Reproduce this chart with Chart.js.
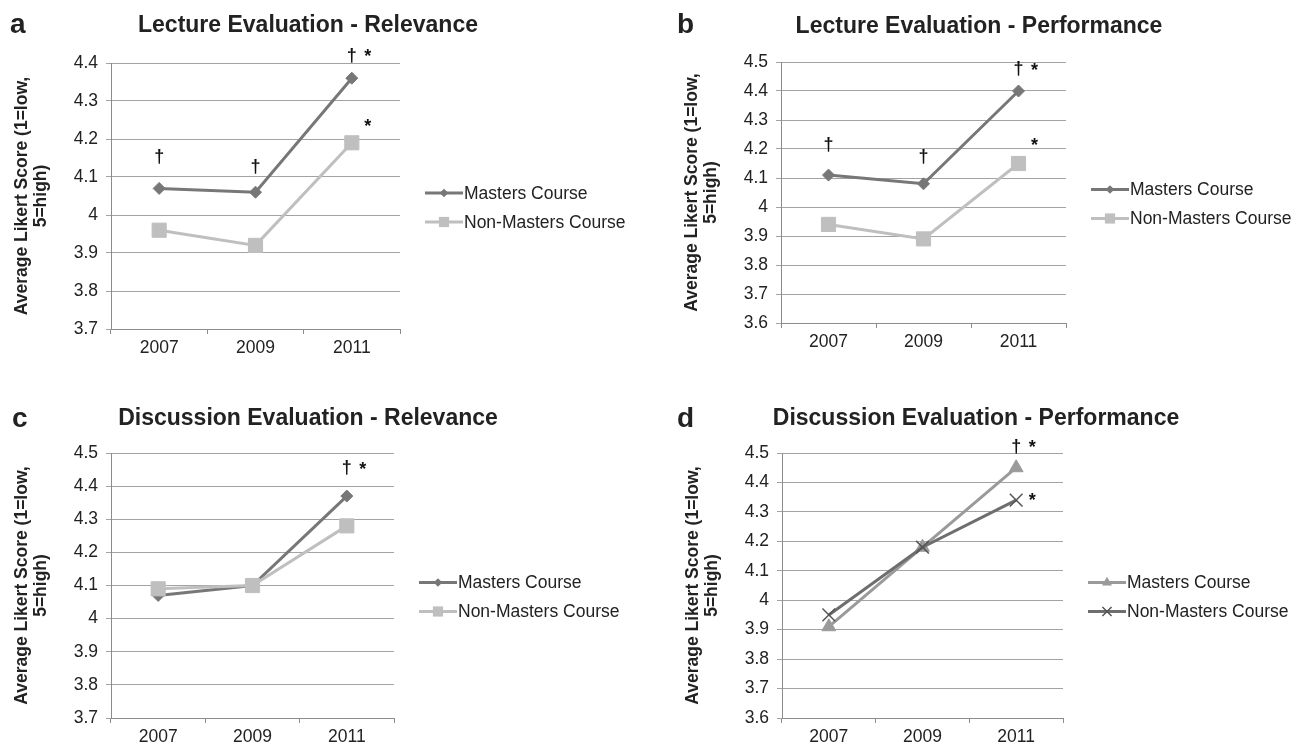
<!DOCTYPE html>
<html>
<head>
<meta charset="utf-8">
<script src="https://cdn.jsdelivr.net/npm/chart.js"></script>
<style>
  body { margin: 0; background: #fff; }
  #page { position: relative; width: 1297px; height: 746px; overflow: hidden; }
  canvas { position: absolute; }
</style>
</head>
<body>
<div id="page">
  <canvas id="chart-a" width="648" height="373" style="left:0;top:0"></canvas>
  <canvas id="chart-b" width="649" height="373" style="left:648px;top:0"></canvas>
  <canvas id="chart-c" width="648" height="373" style="left:0;top:373px"></canvas>
  <canvas id="chart-d" width="649" height="373" style="left:648px;top:373px"></canvas>
</div>
<script>
// values
const years = ["2007", "2009", "2011"];
const seriesNames = ["Masters Course", "Non-Masters Course"];

const lectureRelevanceMasters = [4.07, 4.06, 4.36];
const lectureRelevanceNonMasters = [3.96, 3.92, 4.19];
const lecturePerformanceMasters = [4.11, 4.08, 4.4];
const lecturePerformanceNonMasters = [3.94, 3.89, 4.15];
const discussionRelevanceMasters = [4.07, 4.1, 4.37];
const discussionRelevanceNonMasters = [4.09, 4.1, 4.28];
const discussionPerformanceMasters = [3.91, 4.18, 4.45];
const discussionPerformanceNonMasters = [3.95, 4.18, 4.34];

// significance marks: [year, value, symbol]
const lectureRelevanceMarks = [
  ["2007", 4.153, "†"], ["2009", 4.126, "†"],
  ["2011", 4.418, "†"], ["2011", 4.426, "*"], ["2011", 4.242, "*"],
];
const lecturePerformanceMarks = [
  ["2007", 4.214, "†"], ["2009", 4.172, "†"],
  ["2011", 4.476, "†"], ["2011", 4.483, "*"], ["2011", 4.224, "*"],
];
const discussionRelevanceMarks = [["2011", 4.456, "†"], ["2011", 4.46, "*"]];
const discussionPerformanceMarks = [
  ["2011", 4.521, "†"], ["2011", 4.53, "*"], ["2011", 4.35, "*"],
];

const yLabel = ["Average Likert Score (1=low,", "5=high)"];

const FONT = "'Liberation Sans', Arial, sans-serif";
const TEXT = "#222";
const GRID = "#a3a3a3";
const AXIS = "#8c8c8c";

function drawMarker(ctx, style, x, y, r) {
  ctx.beginPath();
  if (style === "rectRot") {
    ctx.moveTo(x, y - r);
    ctx.lineTo(x + r, y);
    ctx.lineTo(x, y + r);
    ctx.lineTo(x - r, y);
    ctx.closePath();
    ctx.fill();
  } else if (style === "rect") {
    const s = r * Math.SQRT1_2;
    ctx.rect(x - s, y - s, 2 * s, 2 * s);
    ctx.fill();
  } else if (style === "triangle") {
    for (let k = 0; k < 3; k++) {
      const a = (k * 2 * Math.PI) / 3;
      const px = x + Math.sin(a) * r, py = y - Math.cos(a) * r;
      if (k === 0) ctx.moveTo(px, py); else ctx.lineTo(px, py);
    }
    ctx.closePath();
    ctx.fill();
  } else if (style === "crossRot") {
    const s = r * Math.SQRT1_2;
    ctx.moveTo(x - s, y - s); ctx.lineTo(x + s, y + s);
    ctx.moveTo(x + s, y - s); ctx.lineTo(x - s, y + s);
    ctx.stroke();
  }
}

const panelDecor = {
  id: "panelDecor",
  afterDraw(chart, args, opts) {
    const { ctx, chartArea: area, scales } = chart;
    ctx.save();
    ctx.fillStyle = TEXT;

    // panel letter
    ctx.font = `bold 28px ${FONT}`;
    ctx.textAlign = "left";
    ctx.textBaseline = "alphabetic";
    ctx.fillText(opts.letter, opts.letterX, opts.letterY);

    // title
    ctx.font = `bold 23px ${FONT}`;
    ctx.textAlign = "center";
    ctx.fillText(opts.title, opts.titleX, opts.titleY);

    // rotated y label
    ctx.save();
    ctx.translate(area.left, (area.top + area.bottom) / 2);
    ctx.rotate(-Math.PI / 2);
    ctx.font = `bold 17.5px ${FONT}`;
    ctx.textBaseline = "middle";
    ctx.fillText(yLabel[0], 0, -89);
    ctx.fillText(yLabel[1], 0, -70);
    ctx.restore();

    // significance marks
    ctx.font = `bold 18px ${FONT}`;
    ctx.textBaseline = "middle";
    ctx.fillStyle = "#111";
    opts.marks.forEach(([yr, val, sym]) => {
      const px = scales.x.getPixelForValue(years.indexOf(yr));
      const py = scales.y.getPixelForValue(val);
      if (sym === "*") ctx.fillText(sym, px + 16, py + 4);
      else ctx.fillText(sym, px, py);
    });

    // legend
    const midY = (area.top + area.bottom) / 2 + 11.5;
    chart.data.datasets.forEach((ds, i) => {
      const ly = midY + (i - 0.5) * 29;
      const x0 = area.right + 25;
      ctx.strokeStyle = ds.borderColor;
      ctx.lineWidth = 3;
      ctx.beginPath();
      ctx.moveTo(x0, ly);
      ctx.lineTo(x0 + 38, ly);
      ctx.stroke();
      ctx.fillStyle = ds.pointBackgroundColor;
      ctx.strokeStyle = ds.pointBorderColor;
      ctx.lineWidth = ds.pointBorderWidth;
      drawMarker(ctx, ds.pointStyle, x0 + 19, ly, ds.pointRadius * 0.72);
      ctx.fillStyle = TEXT;
      ctx.font = `17.5px ${FONT}`;
      ctx.textAlign = "left";
      ctx.fillText(ds.label, x0 + 39, ly + 1);
      ctx.textAlign = "center";
    });
    ctx.restore();
  },
};

function series(label, data, color, style, radius, extra) {
  return Object.assign({
    label,
    data,
    borderColor: color,
    backgroundColor: color,
    pointBackgroundColor: color,
    pointBorderColor: color,
    pointBorderWidth: 1,
    pointStyle: style,
    pointRadius: radius,
    pointHoverRadius: radius,
    borderWidth: 3,
    tension: 0,
  }, extra || {});
}

function makeChart(id, p) {
  return new Chart(document.getElementById(id), {
    type: "line",
    data: { labels: years, datasets: p.datasets },
    options: {
      responsive: false,
      animation: false,
      events: [],
      layout: { padding: p.padding },
      plugins: {
        legend: { display: false },
        tooltip: { enabled: false },
        panelDecor: p.decor,
      },
      scales: {
        x: {
          type: "category",
          offset: true,
          afterFit: (s) => { s.height = 28; },
          ticks: { padding: 4, color: TEXT, font: { family: FONT, size: 17.5 }, maxRotation: 0 },
          grid: { drawOnChartArea: false, offset: true, tickLength: 5, color: AXIS },
          border: { color: AXIS },
        },
        y: {
          min: p.yMin,
          max: p.yMax,
          afterFit: (s) => { s.width = p.yWidth; },
          ticks: {
            stepSize: 0.1,
            padding: 8,
            color: TEXT,
            font: { family: FONT, size: 17.5 },
            callback: (v) => String(Math.round(v * 10) / 10),
          },
          grid: { color: GRID, tickLength: 5 },
          border: { color: AXIS },
        },
      },
    },
    plugins: [panelDecor],
  });
}

const DARK = "#777777";
const LIGHT = "#bfbfbf";

makeChart("chart-a", {
  yMin: 3.7, yMax: 4.4, yWidth: 111,
  padding: { left: 0, top: 63, right: 248, bottom: 16 },
  datasets: [
    series(seriesNames[0], lectureRelevanceMasters, DARK, "rectRot", 6, { order: 2 }),
    series(seriesNames[1], lectureRelevanceNonMasters, LIGHT, "rect", 10, { order: 1 }),
  ],
  decor: { letter: "a", letterX: 10, letterY: 33, title: "Lecture Evaluation - Relevance", titleX: 308, titleY: 32, marks: lectureRelevanceMarks },
});

makeChart("chart-b", {
  yMin: 3.6, yMax: 4.5, yWidth: 133,
  padding: { left: 0, top: 62, right: 231, bottom: 22 },
  datasets: [
    series(seriesNames[0], lecturePerformanceMasters, DARK, "rectRot", 6, { order: 2 }),
    series(seriesNames[1], lecturePerformanceNonMasters, LIGHT, "rect", 10, { order: 1 }),
  ],
  decor: { letter: "b", letterX: 29, letterY: 33, title: "Lecture Evaluation - Performance", titleX: 331, titleY: 33, marks: lecturePerformanceMarks },
});

makeChart("chart-c", {
  yMin: 3.7, yMax: 4.5, yWidth: 111,
  padding: { left: 0, top: 80, right: 254, bottom: 0 },
  datasets: [
    series(seriesNames[0], discussionRelevanceMasters, DARK, "rectRot", 6, { order: 2 }),
    series(seriesNames[1], discussionRelevanceNonMasters, LIGHT, "rect", 10, { order: 1 }),
  ],
  decor: { letter: "c", letterX: 12, letterY: 54, title: "Discussion Evaluation - Relevance", titleX: 308, titleY: 52, marks: discussionRelevanceMarks },
});

makeChart("chart-d", {
  yMin: 3.6, yMax: 4.5, yWidth: 134,
  padding: { left: 0, top: 80, right: 234, bottom: 0 },
  datasets: [
    series(seriesNames[0], discussionPerformanceMasters, "#9a9a9a", "triangle", 8, { order: 2 }),
    series(seriesNames[1], discussionPerformanceNonMasters, "#6e6e6e", "crossRot", 9, {
      order: 1, pointBackgroundColor: "#6e6e6e", pointBorderColor: "#555", pointBorderWidth: 1.5,
    }),
  ],
  decor: { letter: "d", letterX: 29, letterY: 54, title: "Discussion Evaluation - Performance", titleX: 328, titleY: 52, marks: discussionPerformanceMarks },
});
</script>
</body>
</html>
